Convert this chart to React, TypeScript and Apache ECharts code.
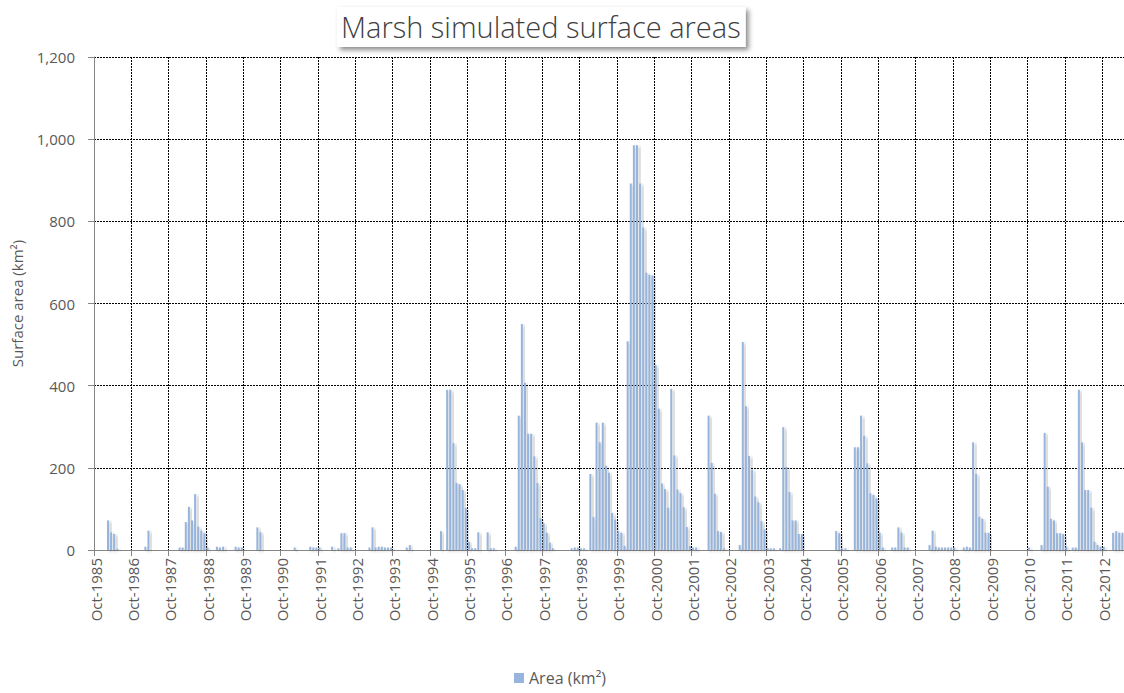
import React, { useEffect, useRef } from "react";
import * as echarts from "echarts";

// Monthly marsh surface areas (km²), hydrological years starting in October
const Y1985 = [0, 0, 0, 0, 72, 43, 39, 3, 0, 0, 0, 0];
const Y1986 = [0, 0, 0, 0, 8, 47, 0, 0, 0, 0, 0, 0];
const Y1987 = [0, 0, 0, 6, 6, 68, 105, 72, 136, 57, 47, 41];
const Y1988 = [6, 0, 0, 8, 6, 8, 0, 0, 0, 8, 6, 6];
const Y1989 = [0, 0, 0, 0, 55, 43, 0, 0, 0, 0, 0, 0];
const Y1990 = [0, 0, 0, 0, 6, 0, 0, 0, 0, 8, 6, 6];
const Y1991 = [6, 0, 0, 0, 8, 0, 4, 41, 41, 6, 6, 0];
const Y1992 = [0, 0, 0, 0, 6, 55, 6, 8, 8, 6, 6, 6];
const Y1993 = [0, 0, 0, 0, 6, 12, 0, 0, 0, 0, 0, 0];
const Y1994 = [0, 0, 0, 46, 0, 390, 390, 260, 163, 160, 146, 102];
const Y1995 = [20, 4, 4, 43, 0, 0, 43, 4, 4, 0, 0, 0];
const Y1996 = [0, 0, 0, 8, 327, 550, 407, 283, 283, 228, 163, 77];
const Y1997 = [65, 42, 18, 4, 0, 0, 0, 0, 0, 4, 6, 6];
const Y1998 = [4, 4, 0, 185, 80, 310, 262, 310, 205, 188, 90, 74];
const Y1999 = [46, 42, 10, 508, 892, 985, 985, 892, 785, 675, 670, 668];
const Y2000 = [450, 344, 162, 148, 103, 392, 230, 147, 138, 104, 56, 10];
const Y2001 = [6, 6, 0, 0, 0, 327, 212, 137, 46, 44, 4, 0];
const Y2002 = [0, 0, 0, 12, 506, 350, 229, 195, 130, 116, 70, 50];
const Y2003 = [4, 4, 4, 0, 4, 299, 202, 141, 72, 72, 39, 39];
const Y2004 = [0, 0, 0, 0, 0, 0, 0, 0, 0, 0, 46, 41];
const Y2005 = [4, 4, 0, 0, 250, 250, 327, 278, 211, 138, 134, 125];
const Y2006 = [42, 6, 0, 0, 6, 6, 55, 42, 6, 6, 0, 0];
const Y2007 = [0, 0, 0, 0, 12, 47, 8, 6, 6, 6, 6, 6];
const Y2008 = [6, 0, 0, 6, 8, 6, 262, 185, 81, 76, 42, 42];
const Y2009 = [0, 0, 0, 0, 0, 0, 0, 0, 0, 0, 0, 0];
const Y2010 = [6, 0, 0, 0, 12, 285, 154, 76, 72, 41, 41, 39];
const Y2011 = [8, 0, 6, 6, 390, 262, 146, 146, 103, 20, 12, 8];
const Y2012 = [8, 0, 0, 42, 46, 42, 42];

const MONTHS = ["Jan", "Feb", "Mar", "Apr", "May", "Jun", "Jul", "Aug", "Sep", "Oct", "Nov", "Dec"];
const START_YEAR = 1985;
const START_MONTH = 9; // October

const AREA = [
  ...Y1985, ...Y1986, ...Y1987, ...Y1988, ...Y1989, ...Y1990, ...Y1991,
  ...Y1992, ...Y1993, ...Y1994, ...Y1995, ...Y1996, ...Y1997, ...Y1998,
  ...Y1999, ...Y2000, ...Y2001, ...Y2002, ...Y2003, ...Y2004, ...Y2005,
  ...Y2006, ...Y2007, ...Y2008, ...Y2009, ...Y2010, ...Y2011, ...Y2012,
];

const CATEGORIES = AREA.map((_, i) => {
  const m = (START_MONTH + i) % 12;
  const y = START_YEAR + Math.floor((START_MONTH + i) / 12);
  return `${MONTHS[m]}-${y}`;
});

const FONT = "'Open Sans', 'Noto Sans', sans-serif";
const TEXT_COLOR = "#595959";

export default function App() {
  const ref = useRef<HTMLDivElement>(null);

  useEffect(() => {
    document.body.style.margin = "0";
    const chart = echarts.init(ref.current!, null, { renderer: "svg" });
    chart.setOption({
      animation: false,
      backgroundColor: "#ffffff",
      title: {
        text: "Marsh simulated surface areas",
        left: 337,
        top: 7,
        padding: [5, 5, 6, 4],
        backgroundColor: "#ffffff",
        shadowColor: "rgba(0,0,0,0.45)",
        shadowBlur: 5,
        shadowOffsetX: 3,
        shadowOffsetY: 3,
        textStyle: {
          fontFamily: FONT,
          fontWeight: 300,
          fontSize: 29,
          color: "#404040",
        },
      },
      legend: {
        bottom: 2,
        left: 509,
        icon: "rect",
        itemWidth: 10,
        itemHeight: 10,
        textStyle: { fontFamily: FONT, fontSize: 16, color: TEXT_COLOR },
        data: ["Area (km²)"],
      },
      grid: { left: 94, top: 57, right: 0, bottom: 143, containLabel: false },
      xAxis: {
        type: "category",
        data: CATEGORIES,
        boundaryGap: true,
        axisLine: { show: true, lineStyle: { color: "#868686", width: 1 } },
        axisTick: {
          show: true,
          interval: 11,
          alignWithLabel: false,
          length: 6,
          lineStyle: { color: "#868686" },
        },
        axisLabel: {
          interval: 11,
          rotate: 90,
          margin: 8,
          fontFamily: FONT,
          fontSize: 15,
          color: TEXT_COLOR,
        },
        splitLine: {
          show: true,
          interval: 11,
          lineStyle: { color: "#000000", type: [2, 1], width: 1 },
        },
      },
      yAxis: {
        type: "value",
        min: 0,
        max: 1200,
        interval: 200,
        name: "Surface area (km²)",
        nameLocation: "middle",
        nameGap: 70,
        nameTextStyle: { fontFamily: FONT, fontSize: 15, color: TEXT_COLOR },
        axisLine: { show: true, lineStyle: { color: "#868686", width: 1 } },
        axisTick: { show: true, length: 6, lineStyle: { color: "#868686" } },
        axisLabel: {
          margin: 19,
          fontFamily: FONT,
          fontSize: 15,
          color: TEXT_COLOR,
          formatter: (v: number) => v.toLocaleString("en-US"),
        },
        splitLine: {
          show: true,
          lineStyle: { color: "#000000", type: [2, 1], width: 1 },
        },
      },
      series: [
        {
          name: "Area (km²)",
          type: "bar",
          data: AREA,
          barWidth: 2,
          itemStyle: {
            color: "#97B4DC",
            shadowColor: "rgba(0,0,0,0.28)",
            shadowBlur: 3,
            shadowOffsetX: 2.5,
            shadowOffsetY: 1.5,
          },
        },
      ],
    });
    return () => chart.dispose();
  }, []);

  return (
    <div
      ref={ref}
      style={{ position: "absolute", left: 0, top: 0, width: 1124, height: 693 }}
    />
  );
}
